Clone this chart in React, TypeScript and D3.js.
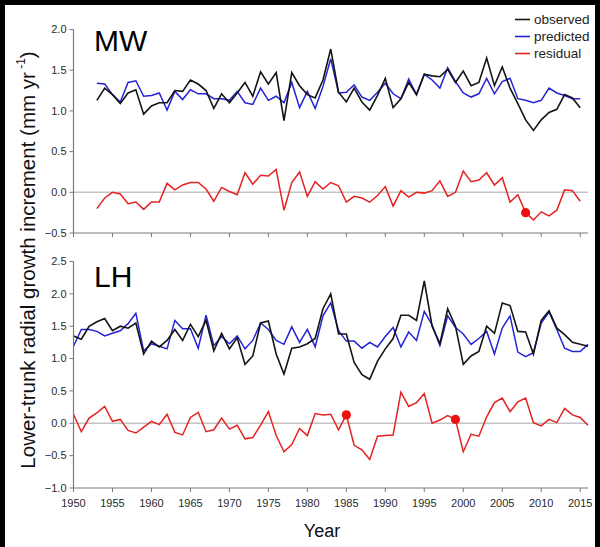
import * as d3 from "d3";

const WIDTH = 600;
const HEIGHT = 547;
const FONT = "'Liberation Sans', Arial, sans-serif";

const X_LEFT = 73.5;
const X_RIGHT = 588;

const COLORS = { observed: "#141414", predicted: "#2424d6", residual: "#e52222" };

// MW site, 1953-2015
const mwStart = 1953;
const mwObserved = [
  1.13, 1.28, 1.2, 1.09, 1.22, 1.26, 0.96, 1.06, 1.1, 1.1,
  1.25, 1.24, 1.38, 1.33, 1.25, 1.03, 1.21, 1.1, 1.22, 1.35,
  1.18, 1.48, 1.33, 1.47, 0.88, 1.47, 1.31, 1.2, 1.16, 1.38,
  1.76, 1.23, 1.11, 1.28, 1.11, 1.01, 1.19, 1.4, 1.04, 1.15,
  1.35, 1.2, 1.45, 1.43, 1.42, 1.51, 1.35, 1.49, 1.31, 1.35,
  1.65, 1.31, 1.54, 1.28, 1.09, 0.89, 0.76, 0.89, 0.98, 1.02,
  1.2, 1.16, 1.04,
];
const mwPredicted = [
  1.34, 1.33, 1.2, 1.11, 1.35, 1.37, 1.18, 1.19, 1.22, 1.01,
  1.24, 1.14, 1.26, 1.21, 1.21, 1.15, 1.15, 1.13, 1.24, 1.1,
  1.08, 1.28, 1.13, 1.18, 1.1, 1.35, 1.04, 1.24, 1.03, 1.3,
  1.64, 1.22, 1.23, 1.32, 1.17, 1.13, 1.23, 1.34, 1.21, 1.15,
  1.39, 1.2, 1.45, 1.38, 1.28, 1.53, 1.36, 1.22, 1.17, 1.21,
  1.4, 1.21, 1.36, 1.4, 1.15, 1.13, 1.1, 1.13, 1.28, 1.22,
  1.19, 1.15, 1.15,
];
const mwResidual = [
  -0.2, -0.07, 0.0, -0.02, -0.14, -0.12, -0.21, -0.12, -0.12, 0.11,
  0.03, 0.09, 0.12, 0.12, 0.04, -0.11, 0.06, 0.01, -0.03, 0.24,
  0.1, 0.21, 0.2, 0.28, -0.22, 0.12, 0.25, -0.05, 0.13, 0.04,
  0.12, 0.08, -0.12, -0.05, -0.07, -0.12, -0.04, 0.07, -0.17, 0.02,
  -0.06, 0.0, -0.01, 0.02, 0.14, -0.05, 0.0, 0.26, 0.13, 0.15,
  0.24, 0.09, 0.18, -0.12, -0.03, -0.25, -0.34, -0.24, -0.29, -0.22,
  0.03, 0.02, -0.11,
];
const mwMarked = [2008];

// LH site, 1950-2016
const lhStart = 1950;
const lhObserved = [
  1.35, 1.3, 1.5, 1.57, 1.62, 1.43, 1.5, 1.47, 1.55, 1.07,
  1.27, 1.18, 1.28, 1.45, 1.28, 1.53, 1.34, 1.59, 1.12, 1.39,
  1.15, 1.32, 0.91, 1.04, 1.55, 1.58, 1.07, 0.76, 1.16, 1.18,
  1.23, 1.31, 1.77, 2.0, 1.38, 1.38, 0.94, 0.75, 0.68, 0.96,
  1.15, 1.31, 1.67, 1.67, 1.59, 2.2, 1.5, 1.23, 1.77, 1.5,
  0.91, 1.04, 1.11, 1.5, 1.39, 1.86, 1.82, 1.42, 1.41, 1.07,
  1.59, 1.74, 1.47, 1.37, 1.25, 1.22, 1.19,
];
const lhPredicted = [
  1.19, 1.45, 1.45, 1.42, 1.35, 1.39, 1.43, 1.54, 1.7, 1.12,
  1.23, 1.19, 1.15, 1.59, 1.46, 1.46, 1.16, 1.67, 1.2, 1.34,
  1.23, 1.35, 1.15, 1.28, 1.55, 1.45, 1.28, 1.22, 1.49, 1.25,
  1.45, 1.18, 1.66, 1.86, 1.43, 1.27, 1.27, 1.16, 1.25, 1.18,
  1.34, 1.48, 1.18, 1.41, 1.28, 1.73, 1.52, 1.2, 1.66, 1.48,
  1.38, 1.22, 1.31, 1.42, 1.07, 1.47, 1.66, 1.1, 1.03, 1.09,
  1.55, 1.72, 1.45, 1.16, 1.11, 1.11, 1.22,
];
const lhResidual = [
  0.14, -0.13, 0.08, 0.16, 0.26, 0.03, 0.06, -0.11, -0.15, -0.06,
  0.03, -0.02, 0.14, -0.14, -0.18, 0.09, 0.17, -0.13, -0.1, 0.08,
  -0.09, -0.03, -0.24, -0.22, -0.03, 0.18, -0.19, -0.44, -0.33, -0.08,
  -0.19, 0.15, 0.13, 0.14, -0.1, 0.13, -0.34, -0.41, -0.56, -0.2,
  -0.19, -0.18, 0.48, 0.26, 0.32, 0.46, 0.0, 0.05, 0.12, 0.06,
  -0.44, -0.17, -0.2, 0.1, 0.32, 0.39, 0.18, 0.33, 0.39, 0.01,
  -0.04, 0.06, 0.01, 0.23, 0.13, 0.09, -0.03,
];
const lhMarked = [1985, 1999];

const xTicks = [1950, 1955, 1960, 1965, 1970, 1975, 1980, 1985, 1990, 1995, 2000, 2005, 2010, 2015];
const mwYTicks = [-0.5, 0, 0.5, 1, 1.5, 2];
const lhYTicks = [-1, -0.5, 0, 0.5, 1, 1.5, 2, 2.5];

const legendItems = [
  { label: "observed", color: COLORS.observed },
  { label: "predicted", color: COLORS.predicted },
  { label: "residual", color: COLORS.residual },
];

const panels = [
  {
    name: "MW", start: mwStart, observed: mwObserved, predicted: mwPredicted,
    residual: mwResidual, marked: mwMarked, yTicks: mwYTicks,
    domain: [-0.5, 2], range: [233, 29.5], labelY: 51, showYears: false,
  },
  {
    name: "LH", start: lhStart, observed: lhObserved, predicted: lhPredicted,
    residual: lhResidual, marked: lhMarked, yTicks: lhYTicks,
    domain: [-1, 2.5], range: [488, 261.5], labelY: 287, showYears: true,
  },
];

const x = d3.scaleLinear().domain([1950, 2016]).range([X_LEFT, X_RIGHT]);

const Panel = ({ p }) => {
  const y = d3.scaleLinear().domain(p.domain).range(p.range);
  const line = d3
    .line<number>()
    .x((_, i) => x(p.start + i))
    .y((d) => y(d));
  const y0 = y(p.domain[0]);
  const axisColor = "#7a7a7a";

  return (
    <g>
      {/* zero reference */}
      <line x1={x(1950)} x2={x(2016)} y1={y(0)} y2={y(0)} stroke="#c4c4c4" strokeWidth={1.6} />

      <path d={line(p.predicted)} fill="none" stroke={COLORS.predicted} strokeWidth={1.5} />
      <path d={line(p.observed)} fill="none" stroke={COLORS.observed} strokeWidth={1.6} />
      <path d={line(p.residual)} fill="none" stroke={COLORS.residual} strokeWidth={1.5} />
      {p.marked.map((yr) => (
        <circle key={yr} cx={x(yr)} cy={y(p.residual[yr - p.start])} r={4.6} fill="#ee1111" />
      ))}

      {/* y axis */}
      <line x1={X_LEFT} x2={X_LEFT} y1={y(p.domain[1])} y2={y0} stroke={axisColor} strokeWidth={1.2} />
      {p.yTicks.map((t) => (
        <g key={t}>
          <line x1={X_LEFT - 4} x2={X_LEFT} y1={y(t)} y2={y(t)} stroke={axisColor} strokeWidth={1} />
          <text x={X_LEFT - 7} y={y(t)} dy="0.35em" textAnchor="end" fontSize={11} fill="#2a2a2a">
            {d3.format(".1f")(t)}
          </text>
        </g>
      ))}

      {/* x axis */}
      <line x1={X_LEFT} x2={X_RIGHT} y1={y0} y2={y0} stroke={axisColor} strokeWidth={1.2} />
      {xTicks.map((t) => (
        <g key={t}>
          <line x1={x(t)} x2={x(t)} y1={y0} y2={y0 + 4} stroke={axisColor} strokeWidth={1} />
          {p.showYears && (
            <text x={x(t)} y={y0 + 19} textAnchor="middle" fontSize={11} fill="#2a2a2a">
              {t}
            </text>
          )}
        </g>
      ))}

      <text x={94} y={p.labelY} fontSize={30} fill="#000">
        {p.name}
      </text>
    </g>
  );
};

export default function App() {
  return (
    <svg
      width={WIDTH}
      height={HEIGHT}
      style={{ position: "fixed", left: 0, top: 0, background: "#fff" }}
      fontFamily={FONT}
    >
      <rect x={0} y={0} width={WIDTH} height={HEIGHT} fill="#fff" />
      {panels.map((p) => (
        <Panel key={p.name} p={p} />
      ))}

      {legendItems.map((d, i) => (
        <g key={d.label} transform={`translate(515, ${19.5 + i * 17})`}>
          <line x1={0} x2={15} y1={0} y2={0} stroke={d.color} strokeWidth={1.6} />
          <text x={19} y={0} dy="0.35em" fontSize={13.5} fill="#222">
            {d.label}
          </text>
        </g>
      ))}

      <text
        transform="translate(30, 260) rotate(-90)"
        textAnchor="middle"
        dominantBaseline="middle"
        fontSize={20.5}
        fill="#111"
      >
        Lower-trunk radial growth increment (mm yr
        <tspan fontSize={12} dy={-8}> -1</tspan>
        <tspan dy={8}>)</tspan>
      </text>

      <text x={322} y={537} textAnchor="middle" fontSize={18} fill="#111">
        Year
      </text>

      {/* frame */}
      <rect x={2.5} y={2.5} width={WIDTH - 5} height={HEIGHT + 20} fill="none" stroke="#000" strokeWidth={5} />
    </svg>
  );
}
